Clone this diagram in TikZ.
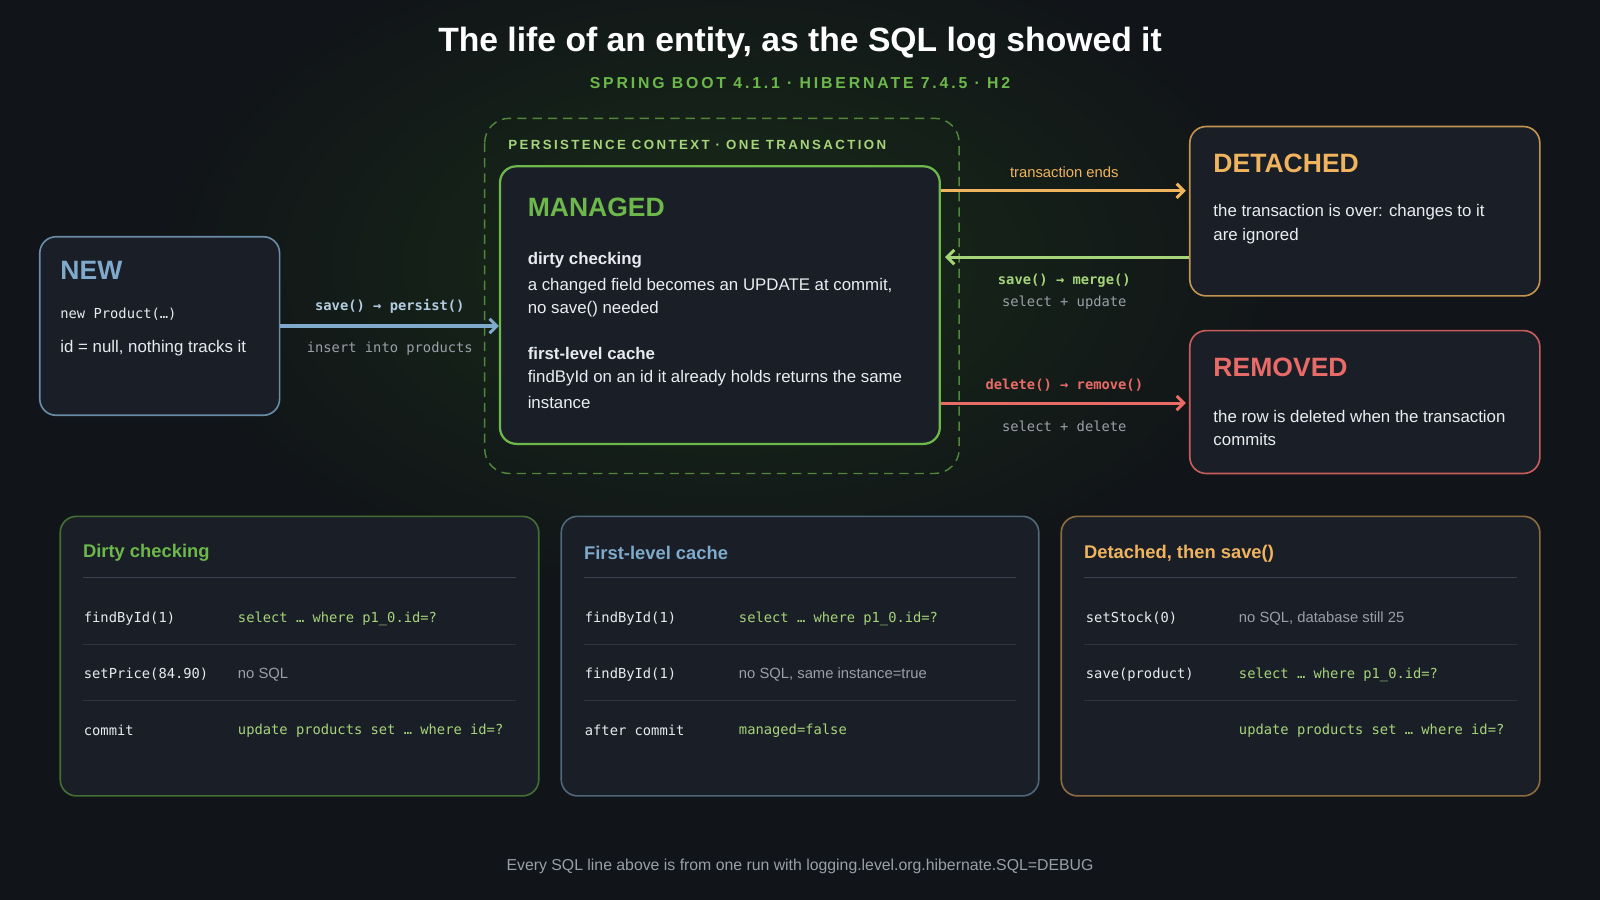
\documentclass[tikz,border=0pt]{standalone}
\usepackage{fontspec}
\setmainfont{Liberation Sans}
\setmonofont{DejaVu Sans Mono}
\newfontfamily\spaced{Liberation Sans}[LetterSpace=18]
\usetikzlibrary{arrows.meta,positioning,calc}

\definecolor{bg}{HTML}{111418}
\definecolor{card}{HTML}{1A1E27}
\definecolor{ink}{HTML}{E8EAEE}
\definecolor{muted}{HTML}{9AA0A8}
\definecolor{gr}{HTML}{6DB84A}
\definecolor{grl}{HTML}{A6D47A}
\definecolor{bl}{HTML}{7FAACB}
\definecolor{og}{HTML}{F0B45E}
\definecolor{rd}{HTML}{E86B67}
\definecolor{rule}{HTML}{3A4250}

\begin{document}
\begin{tikzpicture}[x=1pt,y=-1pt,
    box/.style={draw,rounded corners=16pt,line width=1.6pt,fill=card,inner sep=0pt},
    lbl/.style={anchor=west,inner xsep=0pt,text=ink,font=\fontsize{16.5}{19}\selectfont},
    code/.style={anchor=west,inner xsep=0pt,text=ink,font=\ttfamily\fontsize{13.5}{16}\selectfont},
    sql/.style={code,text=grl},
    note/.style={lbl,text=muted,font=\fontsize{14.5}{17}\selectfont},
    head/.style={anchor=west,inner xsep=0pt,font=\bfseries\fontsize{26}{30}\selectfont},
    arrow/.style={-{Straight Barb[length=7pt,width=14pt]},line width=3pt}
]
\useasboundingbox (0,0) rectangle (1568,882);
\fill[bg] (0,0) rectangle (1568,882);
\shade[inner color={rgb,255:red,24;green,44;blue,24},outer color=bg] (710,260) ellipse (560 and 330);

% === Title ===
\node[text=white,font=\bfseries\fontsize{33}{38}\selectfont] (title) at (784,42) {The life of an entity, as the SQL log showed it};
\node[text=gr,font=\spaced\bfseries\fontsize{15.5}{18}\selectfont] (subtitle) at (784,81) {SPRING BOOT 4.1.1 · HIBERNATE 7.4.5 · H2};

% === Persistence context ===
\draw[gr!70!bg,dashed,dash pattern=on 9pt off 6pt,line width=1.4pt,rounded corners=24pt] (475,116) rectangle (940,464);
\node[anchor=west,inner xsep=0pt,text=grl,font=\spaced\bfseries\fontsize{13}{16}\selectfont] (ctx) at (498,142) {PERSISTENCE CONTEXT · ONE TRANSACTION};

% === State boxes ===
\node[box,draw=gr,line width=2.2pt,minimum width=431pt,minimum height=272pt] (managed) at (705.5,299) {};
\node[box,draw=bl!80!bg,minimum width=235pt,minimum height=175pt] (new) at (156.5,319.5) {};
\node[box,draw=og!80!bg,minimum width=343pt,minimum height=166pt] (detached) at (1337.5,207) {};
\node[box,draw=rd!85!bg,minimum width=343pt,minimum height=140pt] (removed) at (1337.5,394) {};

% NEW
\node[head,text=bl] at (59,265) {NEW};
\node[code] at (59,308) {new Product(…)};
\node[lbl] at (59,341) {id = null, nothing tracks it};

% MANAGED
\node[head,text=gr] at (517,203) {MANAGED};
\node[lbl,font=\bfseries\fontsize{16.5}{19}\selectfont] at (517,255) {dirty checking};
\node[lbl,text=ink!85] at (517,280) {a changed field becomes an UPDATE at commit,};
\node[lbl,text=ink!85] at (517,303) {no save() needed};
\node[lbl,font=\bfseries\fontsize{16.5}{19}\selectfont] at (517,346) {first-level cache};
\node[lbl,text=ink!85] at (517,371) {findById on an id it already holds returns the same};
\node[lbl,text=ink!85] at (517,394) {instance};

% DETACHED / REMOVED
\node[head,text=og] at (1189,160) {DETACHED};
\node[lbl,text=ink!85] at (1189,208) {the transaction is over: changes to it};
\node[lbl,text=ink!85] at (1189,231) {are ignored};
\node[head,text=rd] at (1189,360) {REMOVED};
\node[lbl,text=ink!85] at (1189,408) {the row is deleted when the transaction};
\node[lbl,text=ink!85] at (1189,431) {commits};

% === Transitions ===
\draw[arrow,bl] (new.east) -- (new.east -| managed.west) coordinate (persistEnd);
\node[code,anchor=center,text=bl!60!white,font=\ttfamily\bfseries\fontsize{13.5}{16}\selectfont] at (382,300) {save() → persist()};
\node[code,anchor=center,text=muted] at (382,342) {insert into products};

\draw[arrow,og] ($(managed.east)+(0,-112)$) -- ($(detached.west)+(-3,-20)$);
\node[lbl,anchor=center,text=og,font=\fontsize{14.5}{17}\selectfont] at (1043,169) {transaction ends};

\draw[arrow,grl] ($(detached.west)+(0,45)$) -- ($(managed.east)+(4,-47)$);
\node[code,anchor=center,text=grl,font=\ttfamily\bfseries\fontsize{13.5}{16}\selectfont] at (1043,275) {save() → merge()};
\node[code,anchor=center,text=muted] at (1043,297) {select + update};

\draw[arrow,rd] ($(managed.east)+(0,96)$) -- ($(removed.west)+(-3,1)$);
\node[code,anchor=center,text=rd,font=\ttfamily\bfseries\fontsize{13.5}{16}\selectfont] at (1043,377) {delete() → remove()};
\node[code,anchor=center,text=muted] at (1043,418) {select + delete};

% === Evidence panels ===
\node[box,draw=gr!55!bg,minimum width=469pt,minimum height=274pt] (dirty) at (293.5,643) {};
\node[box,draw=bl!55!bg,minimum width=468pt,minimum height=274pt] (cache) at (784,643) {};
\node[box,draw=og!55!bg,minimum width=469pt,minimum height=274pt] (detsave) at (1274.5,643) {};

\foreach \p/\c/\t in {dirty/gr/Dirty checking,cache/bl/First-level cache,detsave/og/{Detached, then save()}}{
  \node[anchor=west,inner xsep=0pt,text=\c,font=\bfseries\fontsize{18}{22}\selectfont] at ($(\p.north west)+(23,37)$) {\t};
  \draw[rule,line width=1.2pt] ($(\p.north west)+(23,61)$) -- ($(\p.north east)+(-23,61)$);
  \foreach \dy in {126,181}
    \draw[rule!60!card,line width=0.8pt] ($(\p.north west)+(23,\dy)$) -- ($(\p.north east)+(-23,\dy)$);
}

% Dirty checking rows
\node[code] at (82,606) {findById(1)};   \node[sql] at (233,606) {select … where p1\_0.id=?};
\node[code] at (82,661) {setPrice(84.90)}; \node[note] at (233,661) {no SQL};
\node[code] at (82,716) {commit};        \node[sql] at (233,716) {update products set … where id=?};

% First-level cache rows
\node[code] at (573,606) {findById(1)};  \node[sql] at (724,606) {select … where p1\_0.id=?};
\node[code] at (573,661) {findById(1)};  \node[note] at (724,661) {no SQL, same instance=true};
\node[code] at (573,716) {after commit}; \node[sql] at (724,716) {managed=false};

% Detached rows
\node[code] at (1064,606) {setStock(0)};   \node[note] at (1214,606) {no SQL, database still 25};
\node[code] at (1064,661) {save(product)}; \node[sql] at (1214,661) {select … where p1\_0.id=?};
\node[sql] at (1214,716) {update products set … where id=?};

% === Footer ===
\node[text=muted,font=\fontsize{15.5}{18}\selectfont] (footer) at (784,849) {Every SQL line above is from one run with logging.level.org.hibernate.SQL=DEBUG};

\end{tikzpicture}
\end{document}
